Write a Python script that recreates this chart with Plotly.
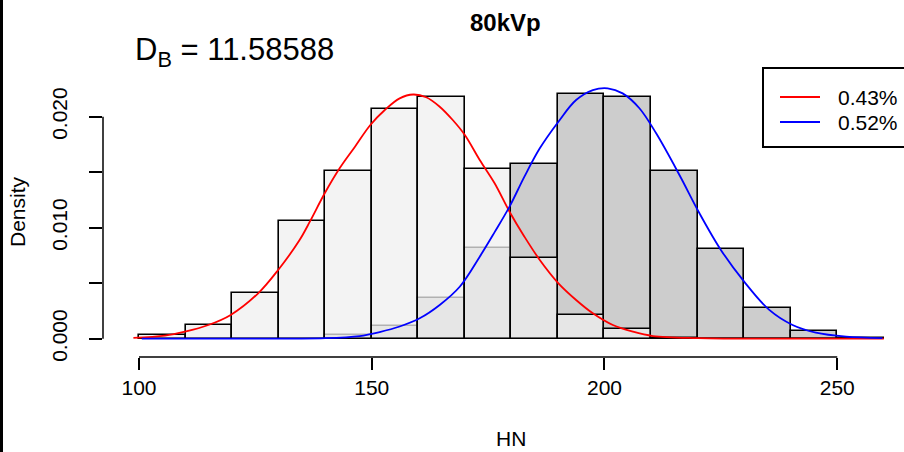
import plotly.graph_objects as go

# ---------------------------------------------------------------------
# Data
# ---------------------------------------------------------------------
bin_centers = [105, 115, 125, 135, 145, 155, 165, 175, 185, 195, 205, 215, 225, 235, 245, 255]
bin_width = 10

# density of each bin (red = 0.43%, blue = 0.52%)
red_hist = [0.0003, 0.0012, 0.0041, 0.0106, 0.0151, 0.0207, 0.0218, 0.0153,
            0.0073, 0.0021, 0.0009, 0.0001, 0.0, 0.0, 0.0, 0.0]
blue_hist = [0.0, 0.0, 0.0, 0.0, 0.0003, 0.0011, 0.0037, 0.0082,
             0.0157, 0.0220, 0.0218, 0.0151, 0.0081, 0.0028, 0.0007, 0.0001]

# fitted density curves
red_curve_x = [98.8, 105.6, 109.9, 114.9, 119.7, 125.6, 129.9, 134.5, 136.7, 139.9,
               143.1, 146.4, 149.7, 152.8, 156.0, 158.9, 161.7, 164.6, 167.4, 170.0,
               173.2, 176.4, 179.6, 182.8, 186.1, 190.1, 193.9, 197.5, 201.8, 206.1,
               210.4, 220.0, 240.0, 260.0]
red_curve_y = [0.00007, 0.00027, 0.00063, 0.00123, 0.00214, 0.00409, 0.00619, 0.00889, 0.01054, 0.0131,
               0.01535, 0.0173, 0.01925, 0.0206, 0.02165, 0.0220, 0.02175, 0.0209, 0.0197, 0.01835,
               0.0161, 0.0140, 0.01144, 0.00919, 0.00709, 0.00499, 0.00349, 0.00229, 0.00123, 0.00063,
               0.00024, 0.00005, 0.0, 0.0]

blue_curve_x = [100.6, 120.0, 140.0, 147.4, 151.7, 156.0, 160.3, 164.6, 168.9, 173.2,
                176.4, 179.6, 182.8, 186.1, 190.1, 193.9, 197.5, 200.7, 203.9, 207.5,
                211.1, 216.1, 220.4, 225.0, 230.0, 235.4, 240.4, 245.4, 251.9, 259.7]
blue_curve_y = [0.0, 0.0, 0.00005, 0.00024, 0.0006, 0.0011, 0.00184, 0.00304, 0.00468, 0.00739,
                0.0096, 0.0119, 0.0146, 0.01715, 0.01955, 0.0215, 0.0224, 0.02256, 0.0221, 0.02076,
                0.0185, 0.01475, 0.0113, 0.0080, 0.00514, 0.00259, 0.00123, 0.00054, 0.00018, 0.00005]

x_ticks = [100, 150, 200, 250]
y_ticks = [0.0, 0.010, 0.020]
y_tick_text = ["0.000", "0.010", "0.020"]
y_minor_ticks = [0.005, 0.015]

legend_labels = ["0.43%", "0.52%"]
title_text = "<b>80kVp</b>"
db_text = "D<sub>B</sub> = 11.58588"

FONT = "Liberation Sans, Arial, sans-serif"

# plot area in pixels: left 103, right 904, top 30, bottom 357
W, H = 904, 452
L, R, T, B = 103, 0, 30, 95
PW, PH = W - L - R, H - T - B


def px(x):
    return (x - L) / PW


def py(y):
    return (H - B - y) / PH


fig = go.Figure()

fig.add_trace(go.Bar(
    x=bin_centers, y=blue_hist, width=bin_width,
    marker=dict(color="#CDCDCD", line=dict(color="black", width=1.6)),
    showlegend=False,
))
fig.add_trace(go.Bar(
    x=bin_centers, y=red_hist, width=bin_width,
    marker=dict(color="rgba(239,239,239,0.74)", line=dict(color="black", width=1.6)),
    showlegend=False,
))
fig.add_trace(go.Scatter(
    x=red_curve_x, y=red_curve_y, mode="lines", line=dict(color="red", width=1.8, shape="spline"),
    showlegend=False,
))
fig.add_trace(go.Scatter(
    x=blue_curve_x, y=blue_curve_y, mode="lines", line=dict(color="blue", width=1.8, shape="spline"),
    showlegend=False,
))

fig.update_layout(
    width=W, height=H,
    margin=dict(l=L, r=R, t=T, b=B, autoexpand=False),
    paper_bgcolor="white", plot_bgcolor="white",
    barmode="overlay", bargap=0,
    font=dict(family=FONT, color="black", size=21),
)

fig.update_xaxes(
    range=[92.27, 264.34], showgrid=False, zeroline=False, showline=False,
    tickmode="array", tickvals=x_ticks, ticks="outside", ticklen=12, tickwidth=1.5,
    tickcolor="black", tickfont=dict(size=21, family=FONT, color="black"),
)
fig.update_yaxes(
    range=[-0.00165, 0.02781], showgrid=False, zeroline=False, showline=False,
    tickmode="array", tickvals=y_ticks, ticktext=y_tick_text, tickangle=-90,
    ticks="outside", ticklen=13, tickwidth=1.5, tickcolor="black", ticklabelstandoff=14,
    tickfont=dict(size=21, family=FONT, color="black"),
    minor=dict(tickmode="array", tickvals=y_minor_ticks, ticks="outside", ticklen=13,
               tickwidth=1.5, tickcolor="black", showgrid=False),
)

shapes = [
    # R style axis lines that stop at the outer ticks
    dict(type="line", xref="x", yref="paper", x0=100, x1=250, y0=0, y1=0,
         line=dict(color="black", width=1.5)),
    dict(type="line", xref="paper", yref="y", x0=0, x1=0, y0=0, y1=0.02,
         line=dict(color="black", width=1.5)),
    # legend box and keys
    dict(type="rect", xref="paper", yref="paper", x0=px(763), x1=px(912), y0=py(147), y1=py(68),
         line=dict(color="black", width=2), fillcolor="white"),
    dict(type="line", xref="paper", yref="paper", x0=px(780), x1=px(820), y0=py(97), y1=py(97),
         line=dict(color="red", width=2)),
    dict(type="line", xref="paper", yref="paper", x0=px(780), x1=px(820), y0=py(122), y1=py(122),
         line=dict(color="blue", width=2)),
    # dark frame edge at the very left of the picture
    dict(type="rect", xref="paper", yref="paper", x0=px(0), x1=px(3), y0=py(H), y1=py(0),
         line=dict(width=0), fillcolor="black"),
]
fig.update_layout(shapes=shapes)

annotations = [
    dict(text=title_text, x=px(505), y=py(22), font=dict(size=24)),
    dict(text=db_text, x=px(133), y=py(52), xanchor="left", font=dict(size=31)),
    dict(text="Density", x=px(17), y=py(212), textangle=-90, font=dict(size=21)),
    dict(text="HN", x=px(511), y=py(438), font=dict(size=21)),
    dict(text=legend_labels[0], x=px(836), y=py(97), xanchor="left", font=dict(size=21)),
    dict(text=legend_labels[1], x=px(836), y=py(122), xanchor="left", font=dict(size=21)),
]
for a in annotations:
    a.setdefault("xanchor", "center")
    a.update(xref="paper", yref="paper", yanchor="middle", showarrow=False)
fig.update_layout(annotations=annotations)

# the page body has a default 8px margin; drop it so the figure fills the window
fig.write_html("out.html", config={"displayModeBar": False},
               post_script="document.body.style.margin = '0';")
